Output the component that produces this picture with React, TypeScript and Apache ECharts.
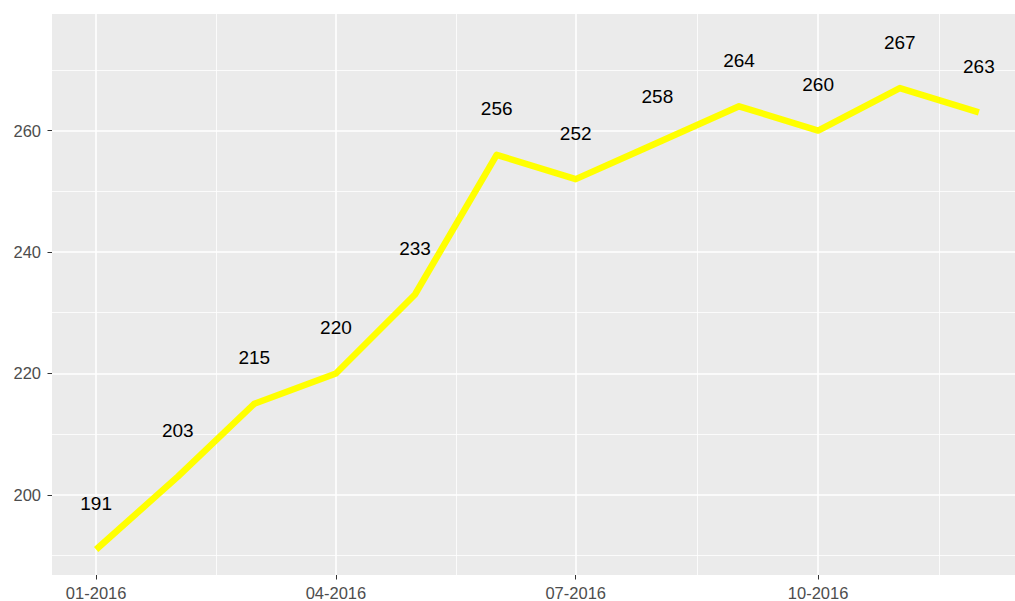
import React, { useEffect, useRef } from "react";
import * as echarts from "echarts";

const dates = [
  "2016-01-01", "2016-02-01", "2016-03-01", "2016-04-01", "2016-05-01", "2016-06-01",
  "2016-07-01", "2016-08-01", "2016-09-01", "2016-10-01", "2016-11-01", "2016-12-01",
];
const values = [191, 203, 215, 220, 233, 256, 252, 258, 264, 260, 267, 263];
const majorXBreaks = ["2016-01-01", "2016-04-01", "2016-07-01", "2016-10-01"];
const xBreakSeq = ["2016-01-01", "2016-04-01", "2016-07-01", "2016-10-01", "2017-01-01"];
const yMajor = [200, 220, 240, 260];
const yMinor = [190, 210, 230, 250, 270];

const DAY = 86400000;
const ORIGIN = Date.UTC(2016, 0, 1);
const toDay = (s: string) => (Date.parse(s + "T00:00:00Z") - ORIGIN) / DAY;
const dayLabel = (d: number) => {
  const dt = new Date(ORIGIN + Math.round(d) * DAY);
  const mm = String(dt.getUTCMonth() + 1).padStart(2, "0");
  return mm + "-" + dt.getUTCFullYear();
};

const FONT = "'Liberation Sans', Arial, sans-serif";

export default function App() {
  const ref = useRef<HTMLDivElement>(null);
  useEffect(() => {
    if (!ref.current) return;
    const chart = echarts.init(ref.current, null, { renderer: "svg" });
    const days = dates.map(toDay);
    const majorDays = majorXBreaks.map(toDay);
    const seqDays = xBreakSeq.map(toDay);
    const minorDays = seqDays.slice(1).map((d, i) => (d + seqDays[i]) / 2);
    const xMin = -16.75;
    const xMax = 351.75;
    const yMin = 186.8;
    const yMax = 279.2;

    chart.setOption({
      animation: false,
      backgroundColor: "#FFFFFF",
      grid: { left: 52, right: 7, top: 14, bottom: 25, backgroundColor: "#EBEBEB", show: true, borderWidth: 0 },
      xAxis: [
        {
          type: "value", min: xMin, max: xMax, position: "bottom",
          axisLine: { show: false, onZero: false },
          axisTick: { show: true, length: 4.5, customValues: majorDays, lineStyle: { color: "#333333", width: 1 } },
          axisLabel: {
            customValues: majorDays, formatter: (v: number) => dayLabel(v),
            color: "#4D4D4D", fontSize: 16.5, fontFamily: FONT, margin: 9,
          },
          splitLine: { show: true, lineStyle: { color: "#FFFFFF", width: 1.6 } },
        },
        {
          type: "value", min: xMin, max: xMax, position: "top",
          axisLine: { show: false, onZero: false },
          axisTick: { show: false, customValues: minorDays },
          axisLabel: { show: false },
          splitLine: { show: true, lineStyle: { color: "#FFFFFF", width: 0.8 } },
        },
      ],
      yAxis: [
        {
          type: "value", min: yMin, max: yMax, position: "left",
          axisLine: { show: false, onZero: false },
          axisTick: { show: true, length: 4.5, customValues: yMajor, lineStyle: { color: "#333333", width: 1 } },
          axisLabel: { customValues: yMajor, color: "#4D4D4D", fontSize: 16.5, fontFamily: FONT, margin: 11 },
          splitLine: { show: true, lineStyle: { color: "#FFFFFF", width: 1.6 } },
        },
        {
          type: "value", min: yMin, max: yMax, position: "right",
          axisLine: { show: false, onZero: false },
          axisTick: { show: false, customValues: yMinor },
          axisLabel: { show: false },
          splitLine: { show: true, lineStyle: { color: "#FFFFFF", width: 0.8 } },
        },
      ],
      series: [
        {
          type: "line",
          xAxisIndex: 0, yAxisIndex: 0,
          data: days.map((d, i) => [d, values[i]]),
          symbol: "circle", symbolSize: 1,
          itemStyle: { color: "rgba(0,0,0,0)" },
          lineStyle: { color: "#FFFF00", width: 6.5, cap: "butt", join: "round" },
          label: {
            show: true, position: "top", distance: 36,
            formatter: (p: any) => String(p.value[1]),
            color: "#000000", fontSize: 19, fontFamily: FONT,
          },
          z: 5,
        },
      ],
    });
    return () => chart.dispose();
  }, []);
  return (
    <div style={{ position: "fixed", left: 0, top: 0, width: 1015, height: 601, overflow: "hidden" }}>
      <div ref={ref} style={{ width: 1030, height: 601 }} />
    </div>
  );
}
